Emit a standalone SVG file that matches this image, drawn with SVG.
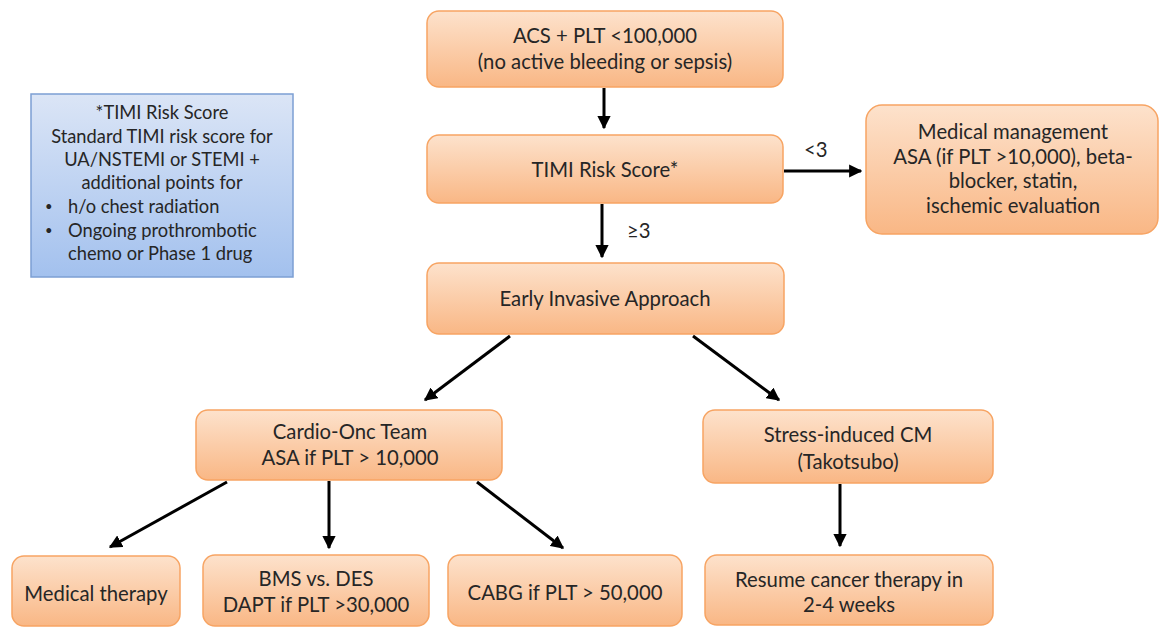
<svg xmlns="http://www.w3.org/2000/svg" width="1160" height="627" viewBox="0 0 1160 627">
  <style>
    .box { fill: url(#orangeFill); stroke: #f7a463; stroke-width: 1.5; }
    .note { fill: url(#blueFill); stroke: #7c9fd3; stroke-width: 1.5; }
    text { font-family: Lato, "Open Sans", "Liberation Sans", sans-serif; font-size: 20.3px; fill: #262626; }
    .n { font-size: 18.3px; }
    .dot { font-size: 13px; }
    .c { text-anchor: middle; }
    .edge { stroke: #000; stroke-width: 3; fill: none; marker-end: url(#head); }
  </style>
  <defs>
    <linearGradient id="orangeFill" x1="0" y1="0" x2="0" y2="1">
      <stop offset="0" stop-color="#fde2cc"/>
      <stop offset="1" stop-color="#f9b785"/>
    </linearGradient>
    <linearGradient id="blueFill" x1="0" y1="0" x2="0" y2="1">
      <stop offset="0" stop-color="#dbe5f6"/>
      <stop offset="1" stop-color="#a3c1ee"/>
    </linearGradient>
    <marker id="head" viewBox="0 0 10 10" refX="9" refY="5" markerWidth="4.4" markerHeight="4.4" orient="auto" markerUnits="strokeWidth">
      <path d="M0,0 L10,5 L0,10 z" fill="#000"/>
    </marker>
  </defs>

  <!-- footnote box -->
  <g id="timi-note">
    <rect class="note" x="31" y="94" width="262" height="183"/>
    <text class="c n" x="162" y="119">*TIMI Risk Score</text>
    <text class="c n" x="162" y="143">Standard TIMI risk score for</text>
    <text class="c n" x="162" y="166">UA/NSTEMI or STEMI +</text>
    <text class="c n" x="162" y="189">additional points for</text>
    <text class="dot" x="45" y="211">•</text>
    <text class="n" x="68" y="213">h/o chest radiation</text>
    <text class="dot" x="45" y="235">•</text>
    <text class="n" x="68" y="237">Ongoing prothrombotic</text>
    <text class="n" x="68" y="260">chemo or Phase 1 drug</text>
  </g>

  <g id="acs">
    <rect class="box" x="427" y="11" width="356" height="76" rx="12"/>
    <text class="c" x="605" y="43">ACS + PLT &lt;100,000</text>
    <text class="c" x="605" y="69">(no active bleeding or sepsis)</text>
  </g>

  <g id="timi">
    <rect class="box" x="427" y="135" width="356" height="68" rx="12"/>
    <text class="c" x="605" y="177">TIMI Risk Score*</text>
  </g>

  <g id="medical-management">
    <rect class="box" x="866" y="105" width="292" height="129" rx="16"/>
    <text class="c" x="1013" y="139">Medical management</text>
    <text class="c" x="1013" y="164">ASA (if PLT &gt;10,000), beta-</text>
    <text class="c" x="1013" y="188">blocker, statin,</text>
    <text class="c" x="1013" y="213">ischemic evaluation</text>
  </g>

  <g id="early-invasive">
    <rect class="box" x="427" y="263" width="357" height="71" rx="12"/>
    <text class="c" x="605" y="306">Early Invasive Approach</text>
  </g>

  <g id="cardio-onc">
    <rect class="box" x="196" y="410" width="306" height="70" rx="12"/>
    <text class="c" x="350" y="439">Cardio-Onc Team</text>
    <text class="c" x="350" y="465">ASA if PLT &gt; 10,000</text>
  </g>

  <g id="stress-cm">
    <rect class="box" x="703" y="410" width="290" height="73" rx="12"/>
    <text class="c" x="848" y="442">Stress-induced CM</text>
    <text class="c" x="848" y="469">(Takotsubo)</text>
  </g>

  <g id="medical-therapy">
    <rect class="box" x="12" y="556" width="168" height="70" rx="12"/>
    <text class="c" x="96" y="601">Medical therapy</text>
  </g>

  <g id="bms-des">
    <rect class="box" x="203" y="555" width="226" height="71" rx="12"/>
    <text class="c" x="316" y="586">BMS vs. DES</text>
    <text class="c" x="316" y="612">DAPT if PLT &gt;30,000</text>
  </g>

  <g id="cabg">
    <rect class="box" x="448" y="555" width="234" height="71" rx="12"/>
    <text class="c" x="565" y="600">CABG if PLT &gt; 50,000</text>
  </g>

  <g id="resume">
    <rect class="box" x="705" y="555" width="288" height="70" rx="12"/>
    <text class="c" x="849" y="587">Resume cancer therapy in</text>
    <text class="c" x="849" y="612">2-4 weeks</text>
  </g>

  <!-- connectors -->
  <g id="connectors">
    <line class="edge" x1="604" y1="88" x2="604" y2="128"/>
    <line class="edge" x1="784" y1="171" x2="861" y2="171"/>
    <line class="edge" x1="602" y1="204" x2="602" y2="257"/>
    <line class="edge" x1="510" y1="336" x2="425" y2="400"/>
    <line class="edge" x1="693" y1="336" x2="779" y2="400"/>
    <line class="edge" x1="227" y1="482" x2="110" y2="547"/>
    <line class="edge" x1="329" y1="481" x2="329" y2="548"/>
    <line class="edge" x1="477" y1="482" x2="563" y2="548"/>
    <line class="edge" x1="840" y1="484" x2="840" y2="546"/>
    <text x="804" y="157">&lt;3</text>
    <text x="627" y="238">≥3</text>
  </g>
</svg>
